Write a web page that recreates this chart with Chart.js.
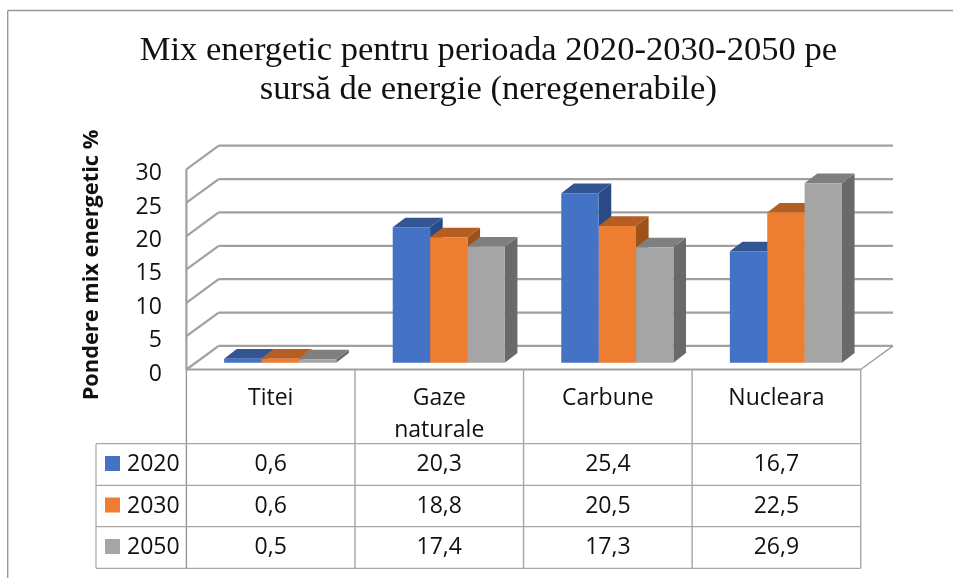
<!DOCTYPE html>
<html lang="ro">
<head>
<meta charset="utf-8">
<title>Mix energetic</title>
<style>html,body{margin:0;padding:0;background:#fff}canvas{display:block}</style>
<script src="https://cdn.jsdelivr.net/npm/chart.js@4"></script>
</head>
<body>
<canvas id="c" width="953" height="579"></canvas>
<script>
const categories = ['Titei', ['Gaze', 'naturale'], 'Carbune', 'Nucleara'];
const seriesNames = ['2020', '2030', '2050'];
const values2020 = [0.6, 20.3, 25.4, 16.7];
const values2030 = [0.6, 18.8, 20.5, 22.5];
const values2050 = [0.5, 17.4, 17.3, 26.9];
const yTicks = [0, 5, 10, 15, 20, 25, 30];
const titleLines = ['Mix energetic pentru perioada 2020-2030-2050 pe', 'sursă de energie (neregenerabile)'];
const yAxisTitle = 'Pondere mix energetic %';

const frontColors = ['#4472C4', '#ED7D31', '#A5A5A5'];
const topColors = ['#335593', '#B55D22', '#7F7F7F'];
const sideColors = ['#2A4A85', '#9E5119', '#696969'];
const lineColor = '#A0A0A0';
const tableColor = '#A6A6A6';
const UI_FONT = '"Open Sans"';

// wall depth, bar offset inside the floor, bar depth
const WALL_DX = 32.3, WALL_DY = -23.6;
const BAR_SHIFT_X = 9.5, BAR_SHIFT_Y = -6.8;
const BAR_DX = 12.6, BAR_DY = -9.6;
const ROW_Y = [443.7, 485.3, 526.7, 568.3];
const TABLE_LEFT = 96;

function line(ctx, x1, y1, x2, y2, color, w) {
  ctx.beginPath();
  ctx.moveTo(x1, y1);
  ctx.lineTo(x2, y2);
  ctx.strokeStyle = color;
  ctx.lineWidth = w;
  ctx.stroke();
}
function poly(ctx, pts, color) {
  ctx.beginPath();
  pts.forEach((p, i) => i ? ctx.lineTo(p[0], p[1]) : ctx.moveTo(p[0], p[1]));
  ctx.closePath();
  ctx.fillStyle = color;
  ctx.fill();
}

const scene3d = {
  id: 'scene3d',
  beforeDraw(chart) {
    const ctx = chart.ctx;
    line(ctx, 7.7, 10.5, 953, 10.5, '#999', 1.4);
    line(ctx, 7.7, 10.5, 7.7, 578, '#999', 1.4);
  },
  beforeDatasetsDraw(chart) {
    const ctx = chart.ctx, { left, right } = chart.chartArea;
    const y = chart.scales.y;
    const base = y.getPixelForValue(0);
    // back wall and left wall grid
    yTicks.forEach(v => {
      const p = y.getPixelForValue(v);
      line(ctx, left, p, left + WALL_DX, p + WALL_DY, lineColor, 2.2);
      line(ctx, left + WALL_DX, p + WALL_DY, right + WALL_DX, p + WALL_DY, lineColor, 2.2);
    });
    line(ctx, left, base, left, y.getPixelForValue(30), lineColor, 2.2);
    line(ctx, right, base, right + WALL_DX, base + WALL_DY, lineColor, 1.5);

    ctx.save();
    ctx.translate(BAR_SHIFT_X, BAR_SHIFT_Y);
    // depth faces of the bars, the library paints the front faces over them
    chart.data.datasets.forEach((ds, di) => {
      chart.getDatasetMeta(di).data.forEach(b => {
        const hw = b.width / 2, x0 = b.x - hw, x1 = b.x + hw, t = b.y, bt = b.base;
        poly(ctx, [[x1, t], [x1 + BAR_DX, t + BAR_DY], [x1 + BAR_DX, bt + BAR_DY], [x1, bt]], sideColors[di]);
        poly(ctx, [[x0, t], [x0 + BAR_DX, t + BAR_DY], [x1 + BAR_DX, t + BAR_DY], [x1, t]], topColors[di]);
      });
    });
  },
  afterDatasetsDraw(chart) {
    const ctx = chart.ctx;
    ctx.restore();
    const { left, right } = chart.chartArea;
    const base = chart.scales.y.getPixelForValue(0);
    const x = chart.scales.x;
    const colW = (right - left) / categories.length;
    // floor front edge
    line(ctx, left, base, right, base, lineColor, 2.2);
    // data table grid
    for (let i = 0; i <= categories.length; i++) {
      const cx = left + i * colW;
      line(ctx, cx, base, cx, ROW_Y[3], i === 0 ? '#969696' : tableColor, 1.4);
    }
    line(ctx, TABLE_LEFT, ROW_Y[0], TABLE_LEFT, ROW_Y[3], tableColor, 1.2);
    ROW_Y.forEach(r => line(ctx, TABLE_LEFT, r, right, r, tableColor, 1.2));
    // data table text
    ctx.textBaseline = 'middle';
    ctx.font = '23px ' + UI_FONT;
    chart.data.datasets.forEach((ds, di) => {
      const mid = (ROW_Y[di] + ROW_Y[di + 1]) / 2;
      ctx.fillStyle = frontColors[di];
      ctx.fillRect(105, mid - 8.5, 15, 15);
      ctx.fillStyle = '#111';
      ctx.textAlign = 'left';
      ctx.fillText(ds.label, 127, mid);
      ctx.textAlign = 'center';
      ds.data.forEach((v, i) => {
        ctx.fillText(String(v).replace('.', ','), x.getPixelForValue(i), mid);
      });
    });
    // rotated axis title
    ctx.save();
    ctx.translate(92, 265);
    ctx.rotate(-Math.PI / 2);
    ctx.font = 'bold 21.8px ' + UI_FONT;
    ctx.textAlign = 'center';
    ctx.fillStyle = '#111';
    ctx.fillText(yAxisTitle, 0, 0);
    ctx.restore();
  }
};

const allValues = [values2020, values2030, values2050];
new Chart(document.getElementById('c'), {
  type: 'bar',
  plugins: [scene3d],
  data: {
    labels: categories,
    datasets: seriesNames.map((name, i) => ({
      label: name,
      data: allValues[i],
      backgroundColor: frontColors[i],
      borderWidth: 0,
      clip: false
    }))
  },
  options: {
    responsive: false,
    animation: false,
    devicePixelRatio: 1,
    categoryPercentage: 0.665,
    barPercentage: 1,
    layout: { padding: { left: 116, right: 92.3, top: 0, bottom: 10 } },
    plugins: {
      legend: { display: false },
      tooltip: { enabled: false },
      title: {
        display: true,
        text: titleLines,
        color: '#111',
        font: { family: '"Liberation Serif"', size: 34.6, weight: 'normal', lineHeight: 1.13 },
        padding: { top: 31, bottom: 60.1 }
      }
    },
    scales: {
      x: {
        grid: { display: false, drawTicks: false },
        border: { display: false },
        afterFit(s) { s.height = 199.5; },
        ticks: {
          color: '#111',
          padding: 12.5,
          maxRotation: 0,
          minRotation: 0,
          autoSkip: false,
          font: { family: UI_FONT, size: 23, lineHeight: 1.39 }
        }
      },
      y: {
        min: 0,
        max: 30,
        afterFit(s) { s.width = 70.4; },
        afterBuildTicks(s) { s.ticks = yTicks.map(v => ({ value: v })); },
        grid: { display: false, drawTicks: false },
        border: { display: false },
        ticks: {
          color: '#111',
          padding: 24.5,
          labelOffset: 4.5,
          font: { family: UI_FONT, size: 23 }
        }
      }
    }
  }
});
</script>
</body>
</html>
